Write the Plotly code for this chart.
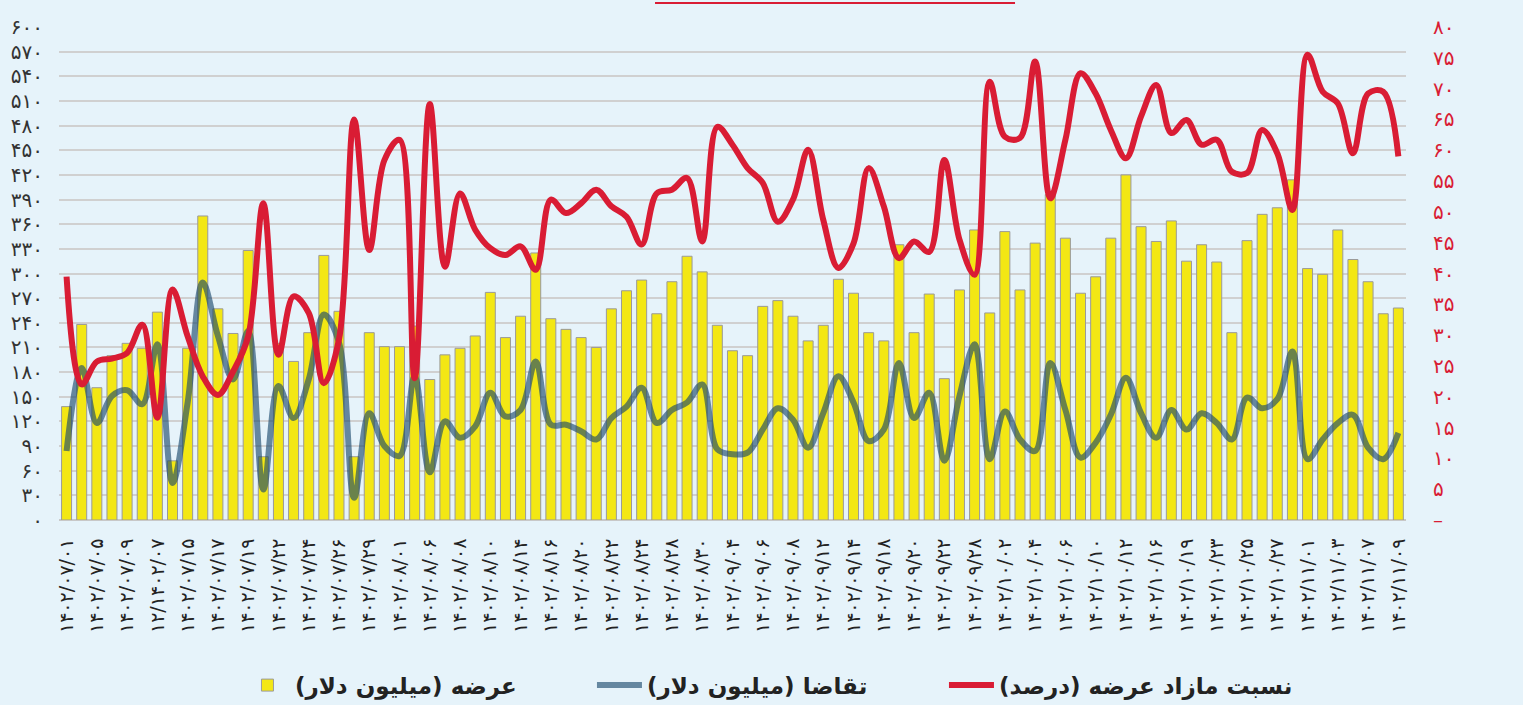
import plotly.graph_objects as go

# ---------------- data ----------------
date_labels = [
    "۱۴۰۲/۰۷/۰۱", "۱۴۰۲/۰۷/۰۵", "۱۴۰۲/۰۷/۰۹", "۱۲/۱۴۰۲/۰۷", "۱۴۰۲/۰۷/۱۵", "۱۴۰۲/۰۷/۱۷",
    "۱۴۰۲/۰۷/۱۹", "۱۴۰۲/۰۷/۲۲", "۱۴۰۲/۰۷/۲۴", "۱۴۰۲/۰۷/۲۶", "۱۴۰۲/۰۷/۲۹",
    "۱۴۰۲/۰۸/۰۱", "۱۴۰۲/۰۸/۰۶", "۱۴۰۲/۰۸/۰۸", "۱۴۰۲/۰۸/۱۰", "۱۴۰۲/۰۸/۱۴", "۱۴۰۲/۰۸/۱۶",
    "۱۴۰۲/۰۸/۲۰", "۱۴۰۲/۰۸/۲۲", "۱۴۰۲/۰۸/۲۴", "۱۴۰۲/۰۸/۲۸", "۱۴۰۲/۰۸/۳۰",
    "۱۴۰۲/۰۹/۰۴", "۱۴۰۲/۰۹/۰۶", "۱۴۰۲/۰۹/۰۸", "۱۴۰۲/۰۹/۱۲", "۱۴۰۲/۰۹/۱۴", "۱۴۰۲/۰۹/۱۸",
    "۱۴۰۲/۰۹/۲۰", "۱۴۰۲/۰۹/۲۲", "۱۴۰۲/۰۹/۲۸",
    "۱۴۰۲/۱۰/۰۲", "۱۴۰۲/۱۰/۰۴", "۱۴۰۲/۱۰/۰۶", "۱۴۰۲/۱۰/۱۰", "۱۴۰۲/۱۰/۱۲", "۱۴۰۲/۱۰/۱۶",
    "۱۴۰۲/۱۰/۱۹", "۱۴۰۲/۱۰/۲۳", "۱۴۰۲/۱۰/۲۵", "۱۴۰۲/۱۰/۲۷",
    "۱۴۰۲/۱۱/۰۱", "۱۴۰۲/۱۱/۰۳", "۱۴۰۲/۱۱/۰۷", "۱۴۰۲/۱۱/۰۹",
]

supply = [
    138, 238, 161, 200, 215, 209, 253, 72, 209, 370,
    257, 227, 328, 77, 215, 193, 228, 322, 254, 77,
    228, 211, 211, 236, 171, 201, 209, 224, 277, 222,
    248, 325, 245, 232, 222, 210, 257, 279, 292, 251,
    290, 321, 302, 237, 206, 200, 260, 267, 248, 218,
    237, 293, 276, 228, 218, 335, 228, 275, 172, 280,
    353, 252, 351, 280, 337, 396, 343, 276, 296, 343,
    420, 357, 339, 364, 315, 335, 314, 228, 340, 372,
    380, 414, 306, 299, 353, 317, 290, 251, 258,
]

demand = [
    84, 185, 118, 151, 158, 141, 214, 45, 143, 289,
    224, 171, 230, 37, 163, 124, 171, 250, 216, 27,
    130, 90, 78, 175, 58, 120, 100, 114, 155, 126,
    134, 193, 116, 116, 108, 98, 124, 138, 161, 118,
    134, 143, 165, 86, 80, 82, 110, 136, 122, 88,
    130, 175, 143, 96, 110, 191, 124, 155, 72, 151,
    214, 74, 132, 98, 84, 191, 134, 76, 94, 128,
    173, 130, 100, 134, 110, 130, 118, 98, 149, 136,
    147, 205, 74, 98, 118, 128, 88, 74, 106,
]

surplus_ratio = [
    39.5, 22.0, 25.7, 26.2, 27.1, 31.7, 16.6, 37.4, 29.8, 23.3,
    20.3, 24.1, 29.8, 51.4, 26.8, 36.3, 33.6, 22.2, 29.3, 65.0,
    43.8, 58.4, 61.7, 23.0, 67.5, 41.1, 53.0, 47.1, 44.1, 43.0,
    44.4, 40.6, 52.0, 49.8, 51.4, 53.6, 50.9, 49.2, 44.7, 53.0,
    53.6, 55.5, 45.2, 63.8, 60.9, 57.1, 54.7, 48.4, 52.0, 60.1,
    48.7, 40.9, 44.9, 57.1, 50.9, 42.5, 45.2, 43.5, 58.4, 45.5,
    39.8, 71.1, 62.2, 62.0, 74.4, 52.2, 61.7, 72.5, 69.2, 63.3,
    58.7, 65.5, 70.6, 62.8, 64.9, 60.9, 61.7, 56.5, 56.3, 63.3,
    59.5, 50.3, 75.5, 69.5, 67.6, 59.5, 69.2, 69.5, 59.0,
]

left_tick_vals = [0, 30, 60, 90, 120, 150, 180, 210, 240, 270, 300,
                  330, 360, 390, 420, 450, 480, 510, 540, 570, 600]
left_tick_text = ["۰", "۳۰", "۶۰", "۹۰", "۱۲۰", "۱۵۰", "۱۸۰", "۲۱۰", "۲۴۰", "۲۷۰", "۳۰۰",
                  "۳۳۰", "۳۶۰", "۳۹۰", "۴۲۰", "۴۵۰", "۴۸۰", "۵۱۰", "۵۴۰", "۵۷۰", "۶۰۰"]
right_tick_vals = [0, 5, 10, 15, 20, 25, 30, 35, 40, 45, 50, 55, 60, 65, 70, 75, 80]
right_tick_text = ["–", "۵", "۱۰", "۱۵", "۲۰", "۲۵", "۳۰", "۳۵", "۴۰", "۴۵",
                   "۵۰", "۵۵", "۶۰", "۶۵", "۷۰", "۷۵", "۸۰"]

name_supply = "عرضه (میلیون دلار)\u200f"
name_demand = "تقاضا (میلیون دلار)\u200f"
name_ratio = "نسبت مازاد عرضه (درصد)\u200f"

# ---------------- figure ----------------
x_idx = list(range(len(supply)))
label_pos = x_idx[::2]

BG = "#e6f3fa"
FONT = "DejaVu Sans"
RED = "#d91c34"
CLEAR = "rgba(0,0,0,0)"

fig = go.Figure()
fig.add_trace(go.Bar(
    x=x_idx, y=supply, name=name_supply,
    marker=dict(color="#f3e714", line=dict(color="#9a9a9a", width=1)),
))
fig.add_trace(go.Scatter(
    x=x_idx, y=demand, name=name_demand, mode="lines",
    line=dict(color="rgba(25,72,108,0.63)", width=6, shape="spline", smoothing=1.0),
))
fig.add_trace(go.Scatter(
    x=x_idx, y=surplus_ratio, name=name_ratio, mode="lines", yaxis="y2",
    line=dict(color=RED, width=6, shape="spline", smoothing=1.0),
))

fig.update_layout(
    width=1523, height=705,
    margin=dict(l=59, r=91, t=27, b=185, autoexpand=False),
    paper_bgcolor=BG, plot_bgcolor=BG,
    bargap=0.34,
    font=dict(family=FONT, color="#333333"),
    xaxis=dict(
        domain=[0, 0.981],
        range=[-0.5, len(supply) - 0.5],
        tickmode="array", tickvals=label_pos, ticktext=date_labels,
        tickangle=-90, tickfont=dict(size=19, color="#222222"),
        showgrid=False, zeroline=False, showline=False,
        ticks="outside", ticklen=10, tickcolor=CLEAR, automargin=False,
    ),
    yaxis=dict(
        range=[0, 600], tickmode="array", tickvals=left_tick_vals, ticktext=left_tick_text,
        tickfont=dict(size=20, color="#333333"),
        showgrid=True, gridcolor="#d0d0d0", gridwidth=1.5,
        zeroline=True, zerolinecolor="#c8c8c8", zerolinewidth=1.5,
        showline=False, ticks="outside", ticklen=11, tickcolor=CLEAR, automargin=False,
    ),
    yaxis2=dict(
        range=[0, 80], overlaying="y", side="right", anchor="free", position=1.0,
        tickmode="array", tickvals=right_tick_vals, ticktext=right_tick_text,
        tickfont=dict(size=20, color=RED),
        showgrid=False, zeroline=False, showline=False, ticks="", automargin=False,
    ),
    legend=dict(
        orientation="h", x=0.1318, xanchor="left", y=-0.335, yanchor="middle",
        font=dict(size=23, color="#222222", family=FONT, weight="bold"),
        bgcolor=CLEAR, itemwidth=45, entrywidth=292,
    ),
    showlegend=True,
)

# red decorative rule at the top centre
fig.add_shape(type="line", xref="paper", yref="paper",
              x0=0.4341, x1=0.6963, y0=1.0486, y1=1.0486,
              line=dict(color=RED, width=2))

fig.write_html(
    "out.html",
    config={"displayModeBar": False},
    post_script="document.body.style.margin='0px';document.body.style.overflow='hidden';",
)
